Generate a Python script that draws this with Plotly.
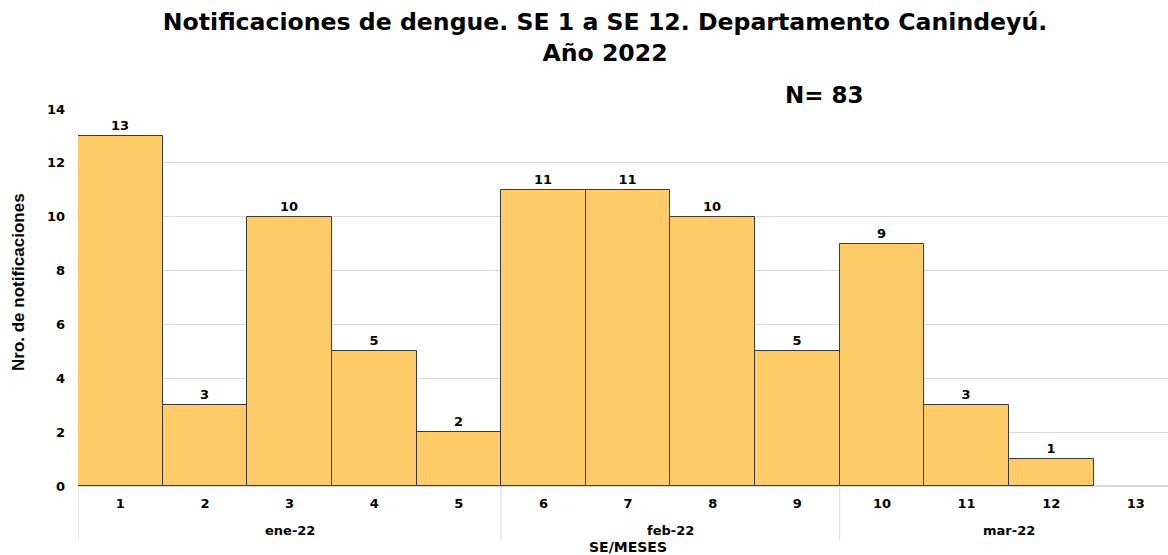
import plotly.graph_objects as go

weeks = [1, 2, 3, 4, 5, 6, 7, 8, 9, 10, 11, 12, 13]
counts = [13, 3, 10, 5, 2, 11, 11, 10, 5, 9, 3, 1, None]
months = ["ene-22", "feb-22", "mar-22"]
month_first_week = [1, 6, 10]
month_last_week = [5, 9, 13]
total_n = 83

FONT = "DejaVu Sans"
bar_color = "#FFCB69"

fig = go.Figure()
fig.add_trace(go.Bar(
    x=weeks, y=counts, width=1,
    marker=dict(color=bar_color, line=dict(color="#3a3a3a", width=1)),
    text=[("" if v is None else str(v)) for v in counts],
    textposition="outside", cliponaxis=False,
    textfont=dict(family=FONT, size=13, color="black", weight="bold"),
    hoverinfo="x+y", showlegend=False,
))

# month labels and separators
for m, a, b in zip(months, month_first_week, month_last_week):
    fig.add_annotation(x=(a + b) / 2, y=-0.119, xref="x", yref="paper",
                       yanchor="middle",
                       text=f"<b>{m}</b>", showarrow=False,
                       font=dict(family=FONT, size=13, color="black"))
for a in month_first_week:
    fig.add_shape(type="line", x0=a - 0.5, x1=a - 0.5, xref="x",
                  y0=0, y1=-0.143, yref="paper",
                  line=dict(color="#D9D9D9", width=1))

fig.add_annotation(x=0.505, y=-0.161, xref="paper", yref="paper", yanchor="middle",
                   text="<b>SE/MESES</b>", showarrow=False,
                   font=dict(family=FONT, size=14, color="black"))

fig.add_annotation(x=(824 - 78) / 1090, y=(486 - 95) / 377, xref="paper", yref="paper",
                   yanchor="middle", xanchor="center",
                   text=f"<b>N= {total_n}</b>", showarrow=False,
                   font=dict(family=FONT, size=23, color="black"))

fig.add_annotation(x=(18 - 78) / 1090, y=(486 - 282) / 377, xref="paper", yref="paper",
                   xanchor="center", yanchor="middle", textangle=-90,
                   text="<b>Nro. de notificaciones</b>", showarrow=False,
                   font=dict(family="Liberation Sans", size=17, color="black"))

fig.update_layout(
    width=1168, height=555,
    margin=dict(l=78, r=0, t=109, b=69, autoexpand=False),
    paper_bgcolor="white", plot_bgcolor="white",
    bargap=0,
    title=dict(text="<b>Notificaciones de dengue. SE 1 a SE 12. Departamento Canindeyú.<br>Año 2022</b>",
               x=0.518, xanchor="center", y=0.946, yanchor="top",
               font=dict(family=FONT, size=23.6, color="black")),
    xaxis=dict(range=[0.5, 13.38], tickvals=weeks, ticktext=[str(w) for w in weeks],
               showgrid=False, zeroline=False, showline=False, automargin=False,
               ticklabelstandoff=8,
               tickfont=dict(family=FONT, size=13, color="black", weight="bold")),
    yaxis=dict(range=[0, 14], dtick=2, showgrid=True, gridcolor="#D9D9D9",
               zeroline=True, zerolinecolor="#D9D9D9", showline=False, automargin=False,
               ticklabelstandoff=12,
               tickfont=dict(family=FONT, size=13, color="black", weight="bold")),
)

fig.write_html("out.html", config={"displayModeBar": False},
               post_script="document.body.style.margin='0';document.body.style.overflow='hidden';")
